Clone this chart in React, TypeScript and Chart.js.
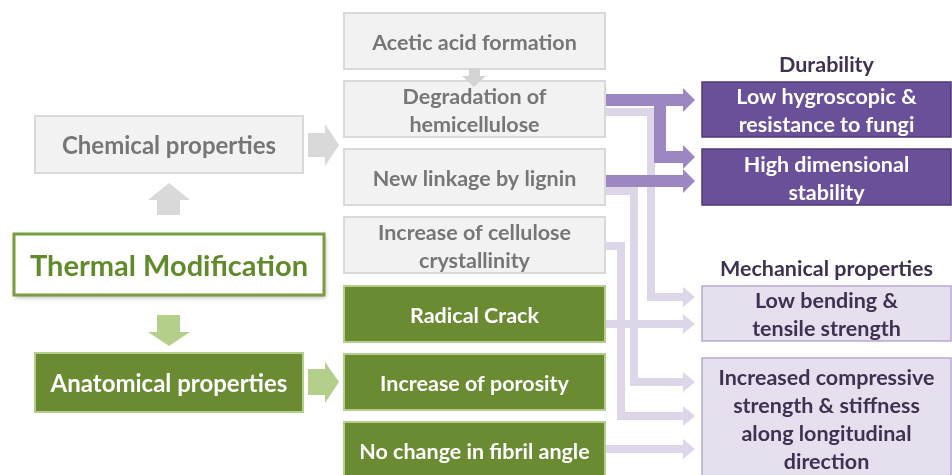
import React, { useEffect, useRef } from "react";
import { Chart, registerables } from "chart.js";

Chart.register(...registerables);

// ---------------- DATA ----------------
const sourceLabels = ["Chemical properties", "Thermal Modification", "Anatomical properties"];
const chemicalEffects = [
  "Acetic acid formation",
  "Degradation of\nhemicellulose",
  "New linkage by lignin",
  "Increase of cellulose\ncrystallinity",
];
const anatomicalEffects = ["Radical Crack", "Increase of porosity", "No change in fibril angle"];
const groupTitles = ["Durability", "Mechanical properties"];
const durabilityOutcomes = ["Low hygroscopic &\nresistance to fungi", "High dimensional\nstability"];
const mechanicalOutcomes = [
  "Low bending &\ntensile strength",
  "Increased compressive\nstrength & stiffness\nalong longitudinal\ndirection",
];
// links: index into [...chemicalEffects, ...anatomicalEffects] -> outcome index
const durabilityLinkFrom = [1, 1, 2];
const durabilityLinkTo = [0, 1, 1];
const mechanicalLinkFrom = [1, 4, 2, 3, 6];
const mechanicalLinkTo = [0, 0, 1, 1, 1];

// ---------------- LAYOUT (layout units on the hidden scales) ----------------
const FONT = "Lato, 'Open Sans', sans-serif";
const MID_L = 344, MID_R = 605;
const midTops = [13, 81, 149, 217, 286, 354, 422];
const MID_H = 56;
const RIGHT_L = 702, RIGHT_R = 951;
const durBoxes = [[82, 137], [149, 205]];
const mechBoxes = [[286, 341], [358, 490]];
const TIP_X = 695;
const TEXT_DY = 2;
// dark route geometry
const darkExitY: Record<number, number> = { 1: 100, 2: 181 };
const darkArriveY = [100, 157, 181];
const darkLaneX = 660;
// light route geometry
const lightExitY: Record<number, number> = { 1: 112, 2: 191, 3: 246, 4: 324, 6: 449 };
const lightLaneX: Record<number, number> = { 1: 651, 2: 634, 3: 621 };
const lightArriveY = [297, 324, 382, 416, 449];

const DARK = "#9d87c2";
const LIGHT = "#ddd6e9";
const HEAD_LEN = 12;

function buildDarkPaths() {
  return durabilityLinkFrom.map((src, i) => {
    const ey = darkExitY[src];
    const ay = darkArriveY[i];
    if (ey === ay) return [{ x: MID_R, y: ey }, { x: TIP_X, y: ay }];
    return [{ x: MID_R, y: ey }, { x: darkLaneX, y: ey }, { x: darkLaneX, y: ay }, { x: TIP_X, y: ay }];
  });
}
function buildLightPaths() {
  return mechanicalLinkFrom.map((src, i) => {
    const ey = lightExitY[src];
    const ay = lightArriveY[i];
    const lane = lightLaneX[src];
    if (lane === undefined) return [{ x: MID_R, y: ey }, { x: TIP_X, y: ay }];
    return [{ x: MID_R, y: ey }, { x: lane, y: ey }, { x: lane, y: ay }, { x: TIP_X, y: ay }];
  });
}

function trimmed(path: { x: number; y: number }[]) {
  const p = path.map((q) => ({ ...q }));
  p[p.length - 1].x -= HEAD_LEN;
  return p;
}

type Style = { fill: string; stroke: string; lw: number; text: string; size: number; shadow?: boolean };
const S_CHEM: Style = { fill: "#f2f2f2", stroke: "#d9d9d9", lw: 2, text: "#767676", size: 24 };
const S_ANAT: Style = { fill: "#6a8b31", stroke: "#b4cf8c", lw: 2, text: "#ffffff", size: 24 };
const S_THERM: Style = { fill: "#ffffff", stroke: "#7b9b3f", lw: 3, text: "#618a2b", size: 29, shadow: true };
const S_DUR: Style = { fill: "#6a5099", stroke: "#4d3a72", lw: 1.5, text: "#ffffff", size: 21.5 };
const S_MECH: Style = { fill: "#e6e0ee", stroke: "#b7a9cf", lw: 1.5, text: "#3f3151", size: 21.5 };
const MID_SIZE = 21.5;

const diagramPlugin = {
  id: "diagram",
  afterDatasetsDraw(chart: any) {
    const ctx: CanvasRenderingContext2D = chart.ctx;
    const xs = chart.scales.x, ys = chart.scales.y;
    const X = (v: number) => xs.getPixelForValue(v);
    const Y = (v: number) => ys.getPixelForValue(v);

    const box = (l: number, t: number, r: number, b: number, label: string, st: Style, lh = 28) => {
      ctx.save();
      if (st.shadow) {
        ctx.shadowColor = "rgba(0,0,0,0.35)";
        ctx.shadowBlur = 5;
        ctx.shadowOffsetX = 1;
        ctx.shadowOffsetY = 2;
      }
      ctx.fillStyle = st.fill;
      ctx.fillRect(X(l), Y(t), X(r) - X(l), Y(b) - Y(t));
      ctx.restore();
      ctx.save();
      ctx.strokeStyle = st.stroke;
      ctx.lineWidth = st.lw;
      ctx.strokeRect(X(l), Y(t), X(r) - X(l), Y(b) - Y(t));
      ctx.fillStyle = st.text;
      ctx.font = `bold ${st.size}px ${FONT}`;
      ctx.textAlign = "center";
      ctx.textBaseline = "middle";
      const lines = label.split("\n");
      const cy = (Y(b) + Y(t)) / 2 + TEXT_DY;
      lines.forEach((ln, k) => {
        ctx.fillText(ln, (X(l) + X(r)) / 2, cy + (k - (lines.length - 1) / 2) * lh);
      });
      ctx.restore();
    };

    const poly = (pts: number[][], color: string) => {
      ctx.save();
      ctx.fillStyle = color;
      ctx.beginPath();
      pts.forEach(([a, b], i) => (i ? ctx.lineTo(X(a), Y(b)) : ctx.moveTo(X(a), Y(b))));
      ctx.closePath();
      ctx.fill();
      ctx.restore();
    };

    // arrowheads on connectors
    chart.data.datasets.forEach((ds: any) => {
      const pts = ds.fullPath;
      if (!pts) return;
      const tip = pts[pts.length - 1];
      const hw = ds.headHalf;
      poly([[tip.x - HEAD_LEN, tip.y - hw], [tip.x, tip.y], [tip.x - HEAD_LEN, tip.y + hw]], ds.borderColor);
    });

    // left column
    box(35, 116, 303, 173, sourceLabels[0], S_CHEM);
    box(14, 234, 324, 295, sourceLabels[1], S_THERM);
    box(35, 353, 303, 412, sourceLabels[2], S_ANAT);

    // block arrows
    const GRAY = "#d9d9d9", LGREEN = "#b3cf8a";
    poly([[308, 133], [325, 133], [325, 124], [339, 145], [325, 166], [325, 157], [308, 157]], GRAY);
    poly([[157, 215], [157, 200], [148, 200], [169, 183], [190, 200], [180, 200], [180, 215]], GRAY);
    poly([[157, 315], [180, 315], [180, 332], [190, 332], [169, 346], [148, 332], [157, 332]], LGREEN);
    poly([[308, 369], [325, 369], [325, 362], [339, 382], [325, 403], [325, 395], [308, 395]], LGREEN);

    // middle column
    const effects = [...chemicalEffects, ...anatomicalEffects];
    effects.forEach((lab, i) => {
      const st = i < chemicalEffects.length ? S_CHEM : S_ANAT;
      box(MID_L, midTops[i], MID_R, midTops[i] + MID_H, lab, { ...st, size: MID_SIZE });
    });
    poly([[469, 68], [480, 68], [480, 76], [486, 76], [474, 87], [462, 76], [469, 76]], "#d4d4d4");

    // right column
    ctx.save();
    ctx.fillStyle = "#3f3151";
    ctx.font = `bold 21.5px ${FONT}`;
    ctx.textAlign = "center";
    ctx.textBaseline = "middle";
    ctx.fillText(groupTitles[0], X((RIGHT_L + RIGHT_R) / 2), Y(63 + TEXT_DY));
    ctx.fillText(groupTitles[1], X((RIGHT_L + RIGHT_R) / 2), Y(267 + TEXT_DY));
    ctx.restore();
    durabilityOutcomes.forEach((lab, i) => box(RIGHT_L, durBoxes[i][0], RIGHT_R, durBoxes[i][1], lab, S_DUR));
    box(RIGHT_L, mechBoxes[0][0], RIGHT_R, mechBoxes[0][1], mechanicalOutcomes[0], S_MECH);
    // tall box, text laid from top
    {
      const [t, b] = mechBoxes[1];
      ctx.save();
      ctx.fillStyle = S_MECH.fill;
      ctx.fillRect(X(RIGHT_L), Y(t), X(RIGHT_R) - X(RIGHT_L), Y(b) - Y(t));
      ctx.strokeStyle = S_MECH.stroke;
      ctx.lineWidth = S_MECH.lw;
      ctx.strokeRect(X(RIGHT_L), Y(t), X(RIGHT_R) - X(RIGHT_L), Y(b) - Y(t));
      ctx.fillStyle = S_MECH.text;
      ctx.font = `bold ${S_MECH.size}px ${FONT}`;
      ctx.textAlign = "center";
      ctx.textBaseline = "middle";
      mechanicalOutcomes[1].split("\n").forEach((ln, k) =>
        ctx.fillText(ln, X((RIGHT_L + RIGHT_R) / 2), Y(376 + TEXT_DY + k * 28))
      );
      ctx.restore();
    }
  },
};

export default function App() {
  const ref = useRef<HTMLCanvasElement>(null);
  useEffect(() => {
    if (!ref.current) return;
    const dark = buildDarkPaths();
    const light = buildLightPaths();
    const datasets: any[] = [
      ...dark.map((p) => ({
        data: trimmed(p), fullPath: p, headHalf: 12, showLine: true, borderColor: DARK, borderWidth: 12,
        pointRadius: 0, borderJoinStyle: "miter", borderCapStyle: "butt", tension: 0, order: 0,
      })),
      ...light.map((p) => ({
        data: trimmed(p), fullPath: p, headHalf: 10, showLine: true, borderColor: LIGHT, borderWidth: 8,
        pointRadius: 0, borderJoinStyle: "miter", borderCapStyle: "butt", tension: 0, order: 1,
      })),
    ];
    const chart = new Chart(ref.current, {
      type: "scatter",
      data: { datasets },
      options: {
        animation: false,
        responsive: false,
        devicePixelRatio: 1,
        layout: { padding: 0 },
        plugins: { legend: { display: false }, tooltip: { enabled: false } },
        events: [],
        scales: {
          x: { type: "linear", min: 0, max: 952, display: false },
          y: { type: "linear", min: 0, max: 475, reverse: true, display: false },
        },
      },
      plugins: [diagramPlugin],
    } as any);
    return () => chart.destroy();
  }, []);
  return (
    <div style={{ position: "fixed", left: 0, top: 0, width: 952, height: 475, background: "#ffffff" }}>
      <canvas ref={ref} width={952} height={475} />
    </div>
  );
}
